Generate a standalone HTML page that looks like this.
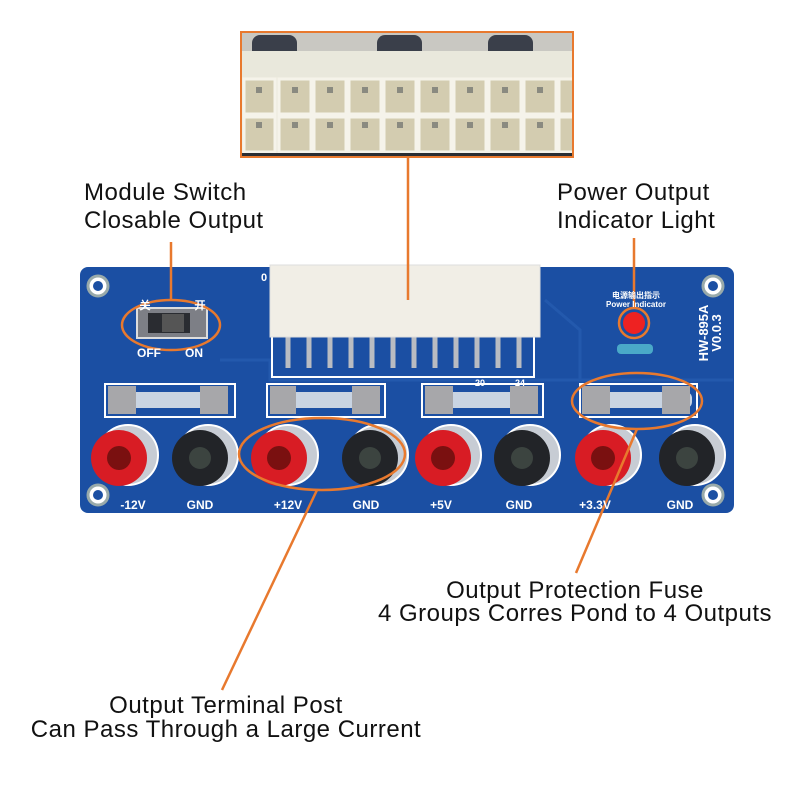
<!DOCTYPE html>
<html><head><style>
body{margin:0;width:800px;height:800px;background:#fff;position:relative;overflow:hidden;font-family:"Liberation Sans",sans-serif}
.a{position:absolute}
.t{position:absolute;font-size:24px;letter-spacing:0.5px;color:#111;white-space:nowrap;line-height:28px}
.c{text-align:center;transform:translateX(-50%)}
.lab{position:absolute;color:#fff;font-weight:bold;font-size:12px;transform:translateX(-50%)}
</style></head><body>
<div class="a" style="left:240px;top:31px;width:334px;height:127px;border:2px solid #e8792e;box-sizing:border-box;background:#ebe9dc;overflow:hidden">
 <div class="a" style="left:0;top:0;width:334px;height:18px;background:#c9c8c2"></div>
 <div class="a" style="left:10px;top:2px;width:45px;height:16px;background:#3a3f4a;border-radius:8px 8px 0 0"></div>
 <div class="a" style="left:135px;top:2px;width:45px;height:16px;background:#3a3f4a;border-radius:8px 8px 0 0"></div>
 <div class="a" style="left:246px;top:2px;width:45px;height:16px;background:#3a3f4a;border-radius:8px 8px 0 0"></div>
 <div class="a" style="left:0;top:18px;width:334px;height:26px;background:#e9e8dc"></div>
 <div class="a" style="left:0;top:120px;width:334px;height:5px;background:#2b2e33"></div>
 <svg class="a" style="left:0;top:44px" width="334" height="76">
  <g fill="#d3ccb0" stroke="#f5f3ea" stroke-width="3">
   <rect x="2" y="2" width="31" height="35"/><rect x="37" y="2" width="32" height="35"/><rect x="72" y="2" width="32" height="35"/><rect x="107" y="2" width="32" height="35"/><rect x="142" y="2" width="32" height="35"/><rect x="177" y="2" width="32" height="35"/><rect x="212" y="2" width="32" height="35"/><rect x="247" y="2" width="32" height="35"/><rect x="282" y="2" width="32" height="35"/><rect x="317" y="2" width="32" height="35"/>
   <rect x="2" y="40" width="31" height="35"/><rect x="37" y="40" width="32" height="35"/><rect x="72" y="40" width="32" height="35"/><rect x="107" y="40" width="32" height="35"/><rect x="142" y="40" width="32" height="35"/><rect x="177" y="40" width="32" height="35"/><rect x="212" y="40" width="32" height="35"/><rect x="247" y="40" width="32" height="35"/><rect x="282" y="40" width="32" height="35"/><rect x="317" y="40" width="32" height="35"/>
  </g>
  <g fill="#8a8a80">
   <rect x="14" y="10" width="6" height="6"/><rect x="50" y="10" width="6" height="6"/><rect x="85" y="10" width="6" height="6"/><rect x="120" y="10" width="6" height="6"/><rect x="155" y="10" width="6" height="6"/><rect x="190" y="10" width="6" height="6"/><rect x="225" y="10" width="6" height="6"/><rect x="260" y="10" width="6" height="6"/><rect x="295" y="10" width="6" height="6"/>
   <rect x="14" y="45" width="6" height="6"/><rect x="50" y="45" width="6" height="6"/><rect x="85" y="45" width="6" height="6"/><rect x="120" y="45" width="6" height="6"/><rect x="155" y="45" width="6" height="6"/><rect x="190" y="45" width="6" height="6"/><rect x="225" y="45" width="6" height="6"/><rect x="260" y="45" width="6" height="6"/><rect x="295" y="45" width="6" height="6"/>
  </g>
 </svg>
</div>

<div class="t" style="left:84px;top:179px">Module Switch</div>
<div class="t" style="left:84px;top:207px">Closable Output</div>
<div class="t" style="left:557px;top:179px">Power Output</div>
<div class="t" style="left:557px;top:207px">Indicator Light</div>

<svg class="a" style="left:0;top:0" width="800" height="800">
 <rect x="80" y="267" width="654" height="246" rx="8" fill="#1b4fa3"/>
 <path d="M220 360 L270 360 L270 380 L733 380" stroke="#2359ad" stroke-width="3" fill="none"/>
 <path d="M545 300 L580 330 L580 380" stroke="#2359ad" stroke-width="3" fill="none"/>
 <g fill="#fff" stroke="#9aa" stroke-width="3">
  <circle cx="98" cy="286" r="10"/><circle cx="98" cy="495" r="10"/><circle cx="713" cy="286" r="10"/><circle cx="713" cy="495" r="10"/>
 </g>
 <g fill="#1b4fa3"><circle cx="98" cy="286" r="5"/><circle cx="98" cy="495" r="5"/><circle cx="713" cy="286" r="5"/><circle cx="713" cy="495" r="5"/></g>
 <rect x="137" y="308" width="70" height="30" fill="#7d7f86" stroke="#ddd" stroke-width="2"/>
 <rect x="148" y="313" width="42" height="20" fill="#2a2c31"/>
 <rect x="162" y="314" width="22" height="18" fill="#555"/>
 <rect x="272" y="335" width="262" height="42" fill="none" stroke="#fff" stroke-width="2"/>
 <g stroke="#b9bcc2" stroke-width="5">
  <line x1="288" y1="335" x2="288" y2="368"/><line x1="309" y1="335" x2="309" y2="368"/><line x1="330" y1="335" x2="330" y2="368"/><line x1="351" y1="335" x2="351" y2="368"/><line x1="372" y1="335" x2="372" y2="368"/><line x1="393" y1="335" x2="393" y2="368"/><line x1="414" y1="335" x2="414" y2="368"/><line x1="435" y1="335" x2="435" y2="368"/><line x1="456" y1="335" x2="456" y2="368"/><line x1="477" y1="335" x2="477" y2="368"/><line x1="498" y1="335" x2="498" y2="368"/><line x1="519" y1="335" x2="519" y2="368"/>
 </g>
 <rect x="270" y="265" width="270" height="72" fill="#f1eee6" stroke="#ddd"/>
 <g>
  <rect x="105" y="384" width="130" height="33" fill="none" stroke="#fff" stroke-width="2"/>
  <rect x="115" y="392" width="110" height="16" rx="6" fill="#c9d4e2"/>
  <rect x="108" y="386" width="28" height="28" fill="#a7a7aa"/><rect x="200" y="386" width="28" height="28" fill="#a7a7aa"/>
  <rect x="267" y="384" width="118" height="33" fill="none" stroke="#fff" stroke-width="2"/>
  <rect x="275" y="392" width="105" height="16" rx="6" fill="#c9d4e2"/>
  <rect x="270" y="386" width="26" height="28" fill="#a7a7aa"/><rect x="352" y="386" width="28" height="28" fill="#a7a7aa"/>
  <rect x="422" y="384" width="121" height="33" fill="none" stroke="#fff" stroke-width="2"/>
  <rect x="430" y="392" width="108" height="16" rx="6" fill="#c9d4e2"/>
  <rect x="425" y="386" width="28" height="28" fill="#a7a7aa"/><rect x="510" y="386" width="28" height="28" fill="#a7a7aa"/>
  <rect x="580" y="384" width="117" height="33" fill="none" stroke="#fff" stroke-width="2"/>
  <rect x="587" y="392" width="105" height="16" rx="6" fill="#c9d4e2"/>
  <rect x="582" y="386" width="28" height="28" fill="#a7a7aa"/><rect x="662" y="386" width="28" height="28" fill="#a7a7aa"/>
 </g>
 <g fill="#c7ccd4" stroke="#fff" stroke-width="2">
  <circle cx="128" cy="455" r="30"/><circle cx="208" cy="455" r="30"/><circle cx="288" cy="455" r="30"/><circle cx="378" cy="455" r="30"/><circle cx="451" cy="455" r="30"/><circle cx="530" cy="455" r="30"/><circle cx="611" cy="455" r="30"/><circle cx="695" cy="455" r="30"/>
 </g>
 <g fill="#d81c24"><circle cx="119" cy="458" r="28"/><circle cx="279" cy="458" r="28"/><circle cx="443" cy="458" r="28"/><circle cx="603" cy="458" r="28"/></g>
 <g fill="#7a1010"><circle cx="119" cy="458" r="12"/><circle cx="279" cy="458" r="12"/><circle cx="443" cy="458" r="12"/><circle cx="603" cy="458" r="12"/></g>
 <g fill="#222428"><circle cx="200" cy="458" r="28"/><circle cx="370" cy="458" r="28"/><circle cx="522" cy="458" r="28"/><circle cx="687" cy="458" r="28"/></g>
 <g fill="#3c4440"><circle cx="200" cy="458" r="11"/><circle cx="370" cy="458" r="11"/><circle cx="522" cy="458" r="11"/><circle cx="687" cy="458" r="11"/></g>
 <circle cx="634" cy="323" r="11" fill="#e22"/>
 <rect x="617" y="344" width="36" height="10" rx="4" fill="#4aa9c8"/>
 <g stroke="#e8792e" stroke-width="2.5" fill="none">
  <line x1="408" y1="158" x2="408" y2="300"/>
  <line x1="171" y1="242" x2="171" y2="300"/>
  <line x1="634" y1="238" x2="634" y2="308"/>
  <ellipse cx="171" cy="325" rx="49" ry="25"/>
  <circle cx="634" cy="323" r="15"/>
  <ellipse cx="322" cy="454" rx="83" ry="36"/>
  <line x1="317" y1="490" x2="222" y2="690"/>
  <ellipse cx="637" cy="401" rx="65" ry="28"/>
  <line x1="637" y1="429" x2="576" y2="573"/>
 </g>
</svg>

<div class="lab" style="left:145px;top:297px;font-size:11px">关</div>
<div class="lab" style="left:200px;top:297px;font-size:11px">开</div>
<div class="lab" style="left:149px;top:346px">OFF</div>
<div class="lab" style="left:194px;top:346px">ON</div>
<div class="lab" style="left:264px;top:272px;font-size:11px">0</div>
<div class="lab" style="left:480px;top:378px;font-size:9px">20</div>
<div class="lab" style="left:520px;top:378px;font-size:9px">24</div>
<div class="lab" style="left:636px;top:290px;font-size:8px;font-family:'Liberation Sans','Noto Sans CJK SC',sans-serif">电源输出指示</div>
<div class="lab" style="left:636px;top:300px;font-size:8px">Power Indicator</div>
<div class="lab" style="left:710px;top:320px;font-size:13px;transform:translateX(-50%) rotate(-90deg);line-height:13px;text-align:center">HW-895A<br>V0.0.3</div>
<div class="lab" style="left:133px;top:498px">-12V</div>
<div class="lab" style="left:200px;top:498px">GND</div>
<div class="lab" style="left:288px;top:498px">+12V</div>
<div class="lab" style="left:366px;top:498px">GND</div>
<div class="lab" style="left:441px;top:498px">+5V</div>
<div class="lab" style="left:519px;top:498px">GND</div>
<div class="lab" style="left:595px;top:498px">+3.3V</div>
<div class="lab" style="left:680px;top:498px">GND</div>

<div class="t c" style="left:575px;top:577px">Output Protection Fuse</div>
<div class="t c" style="left:575px;top:600px">4 Groups Corres Pond to 4 Outputs</div>
<div class="t c" style="left:226px;top:692px">Output Terminal Post</div>
<div class="t c" style="left:226px;top:716px">Can Pass Through a Large Current</div>
</body></html>
